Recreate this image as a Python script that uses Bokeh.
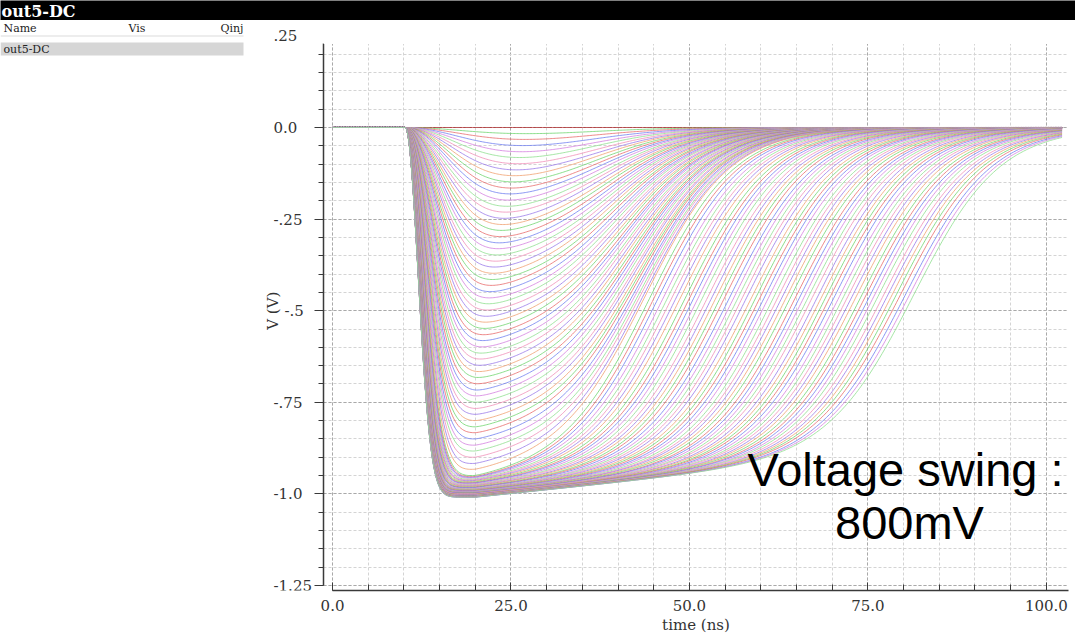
import numpy as np
from bokeh.plotting import figure
from bokeh.layouts import column, row
from bokeh.models import (Range1d, FixedTicker, PrintfTickFormatter, CustomJSTickFormatter,
                          Label, BoxAnnotation, ColumnDataSource)
from bokeh.embed import file_html
from bokeh.resources import INLINE

# ---------------- values ----------------
x_tick_ns = [0, 25, 50, 75, 100]
x_minor_ns = [0, 5, 10, 15, 20, 25, 30, 35, 40, 45, 50, 55, 60, 65, 70, 75, 80, 85, 90, 95, 100]
y_tick_v = [0.25, 0.0, -0.25, -0.5, -0.75, -1.0, -1.25]
y_tick_text = [".25", "0.0", "-.25", "-.5", "-.75", "-1.0", "-1.25"]
y_minor_v = [0.25, 0.2, 0.15, 0.1, 0.05, 0.0, -0.05, -0.1, -0.15, -0.2, -0.25, -0.3, -0.35,
             -0.4, -0.45, -0.5, -0.55, -0.6, -0.65, -0.7, -0.75, -0.8, -0.85, -0.9, -0.95,
             -1.0, -1.05, -1.1, -1.15, -1.2, -1.25]

# Qinj sweep, curves that stay below saturation: depth of minimum (V),
# falling-edge time constant (ns), half-recovery time (ns)
unsat_depth_v = [0.000, 0.017, 0.033, 0.050, 0.067, 0.083, 0.100, 0.117, 0.133, 0.150,
                 0.167, 0.183, 0.200, 0.217, 0.233, 0.250, 0.267, 0.283, 0.300, 0.317,
                 0.333, 0.350, 0.367, 0.383, 0.400, 0.417, 0.433, 0.450, 0.467, 0.483,
                 0.500, 0.517, 0.533, 0.550, 0.567, 0.583, 0.600, 0.617, 0.633, 0.650,
                 0.667, 0.683, 0.700, 0.717, 0.733, 0.750, 0.767, 0.783, 0.800, 0.817,
                 0.833, 0.850, 0.867, 0.883, 0.900, 0.917, 0.933]
unsat_edge_ns = [12.0, 11.54, 11.11, 10.71, 10.34, 10.0, 9.68, 9.38, 9.09, 8.82,
                 8.57, 8.33, 8.11, 7.89, 7.69, 7.5, 7.32, 7.14, 6.98, 6.82,
                 6.67, 6.52, 6.38, 6.25, 6.12, 6.0, 5.88, 5.77, 5.66, 5.56,
                 5.45, 5.36, 5.26, 5.17, 5.08, 5.0, 4.92, 4.84, 4.76, 4.69,
                 4.62, 4.55, 4.48, 4.41, 4.35, 4.29, 4.23, 4.17, 4.11, 4.05,
                 4.0, 3.95, 3.9, 3.85, 3.8, 3.75, 3.7]
unsat_half_ns = [36.0, 36.1, 36.3, 36.4, 36.6, 36.7, 36.9, 37.0, 37.1, 37.3,
                 37.4, 37.6, 37.7, 37.9, 38.0, 38.1, 38.3, 38.4, 38.6, 38.7,
                 38.9, 39.0, 39.1, 39.3, 39.4, 39.6, 39.7, 39.9, 40.0, 40.1,
                 40.3, 40.4, 40.6, 40.7, 40.9, 41.0, 41.1, 41.3, 41.4, 41.6,
                 41.7, 41.9, 42.0, 42.1, 42.3, 42.4, 42.6, 42.7, 42.9, 43.0,
                 43.1, 43.3, 43.4, 43.6, 43.7, 43.9, 44.0]

# Qinj sweep, curves that saturate: plateau depth (V), edge (ns), half-recovery (ns)
sat_depth_v = [0.950, 0.953, 0.955, 0.957, 0.960, 0.962, 0.964, 0.966, 0.968, 0.970,
               0.971, 0.973, 0.975, 0.976, 0.978, 0.979, 0.981, 0.982, 0.983, 0.985,
               0.986, 0.987, 0.988, 0.989, 0.990, 0.991, 0.992, 0.993, 0.994, 0.995,
               0.995, 0.996, 0.997, 0.998, 0.998, 0.999, 1.000, 1.000, 1.001, 1.001,
               1.002, 1.002, 1.003, 1.003, 1.004, 1.004, 1.005, 1.005, 1.005, 1.006,
               1.006, 1.007, 1.007, 1.007, 1.008, 1.008, 1.008, 1.008, 1.009, 1.009, 1.009]
sat_edge_ns = [3.65, 3.58, 3.51, 3.44, 3.38, 3.32, 3.27, 3.22, 3.17, 3.13,
               3.09, 3.05, 3.02, 2.98, 2.95, 2.92, 2.90, 2.87, 2.85, 2.82,
               2.80, 2.78, 2.77, 2.75, 2.73, 2.72, 2.70, 2.69, 2.68, 2.67,
               2.66, 2.65, 2.64, 2.63, 2.62, 2.61, 2.60, 2.60, 2.59, 2.59,
               2.58, 2.57, 2.57, 2.57, 2.56, 2.56, 2.55, 2.55, 2.55, 2.54,
               2.54, 2.54, 2.54, 2.53, 2.53, 2.53, 2.53, 2.52, 2.52, 2.52, 2.52]
sat_half_ns = [44.6, 45.2, 45.8, 46.5, 47.1, 47.7, 48.3, 48.9, 49.6, 50.2,
               50.8, 51.4, 52.0, 52.7, 53.3, 53.9, 54.5, 55.1, 55.8, 56.4,
               57.0, 57.6, 58.2, 58.9, 59.5, 60.1, 60.7, 61.3, 62.0, 62.6,
               63.2, 63.8, 64.4, 65.1, 65.7, 66.3, 66.9, 67.5, 68.2, 68.8,
               69.4, 70.0, 70.6, 71.3, 71.9, 72.5, 73.1, 73.7, 74.4, 75.0,
               75.6, 76.2, 76.8, 77.5, 78.1, 78.7, 79.3, 79.9, 80.6, 81.2, 81.8]

pulse_start_ns = 10.2
recovery_width_ns = 6.0
droop_start_ns = 20.0
droop_per_ns = 0.002

zero_trace_color = "#b0282a"
trace_colors = ["#6fd66f", "#e86b6b", "#6f7ff0", "#d47fe0", "#8ee08e", "#f08fb8", "#9a7bea", "#f0a070"]

# ---------------- build traces ----------------
t = np.arange(0.0, 102.3, 0.2)


def trace(depth, edge, half):
    s = np.clip(t - pulse_start_ns, 0.0, None)
    rise = 1.0 - np.exp(-(s / edge) ** 2)
    rec = 1.0 / (1.0 + np.exp((t - half) / recovery_width_ns))
    shape = rise * rec
    shape = shape / shape.max()
    droop = 1.0 - droop_per_ns * np.clip(t - droop_start_ns, 0.0, None)
    return -depth * shape * droop


depths = unsat_depth_v + sat_depth_v
edges = unsat_edge_ns + sat_edge_ns
halves = unsat_half_ns + sat_half_ns

xs, ys, cols = [], [], []
for i, (d, e, h) in enumerate(zip(depths, edges, halves)):
    xs.append(t.tolist())
    ys.append(trace(d, e, h).tolist())
    cols.append(zero_trace_color if i == 0 else trace_colors[(i - 1) % len(trace_colors)])

src = ColumnDataSource(dict(xs=xs, ys=ys, color=cols))

SERIF = "DejaVu Serif"
TXT = "#333333"
BAND_H = 20
BODY_H = 637 - BAND_H
BOTTOM = 47
PX_PER_V = 366.4                       # 0.25 V per 91.6 px in the reference
Y_TOP = (127 - BAND_H) / PX_PER_V      # value at the top of the frame (0 V is at y=127 px)
Y_RANGE = (-1.2637, Y_TOP)             # frame from y=20 px to y=590 px of the page
AXIS_TOP_V = 0.228                     # the y axis line starts just under .25
X_END = 103.1


def v_at(page_y):
    return (127 - page_y) / PX_PER_V


# ticks actually drawn on the y axis (the axis line starts below .25)
axis_major_v = [v for v in y_tick_v if v <= AXIS_TOP_V]
axis_minor_v = [v for v in y_minor_v if v <= AXIS_TOP_V]

# ---------------- black title band ----------------
band = figure(width=1075, height=BAND_H, output_backend="svg", toolbar_location=None, title=None,
              x_range=Range1d(0, 1075), y_range=Range1d(BAND_H, 0),
              x_axis_location=None, y_axis_location=None,
              min_border_left=0, min_border_right=0, min_border_top=0, min_border_bottom=0,
              outline_line_color=None, background_fill_color="black", border_fill_color="black")
band.grid.visible = False
band.add_layout(Label(x=1, y=11, text="out5-DC", text_font=SERIF, text_font_style="bold",
                      text_font_size="16px", text_color="white", text_align="left",
                      text_baseline="middle"))

# ---------------- signal list + y tick labels ----------------
side = figure(width=314, height=BODY_H, output_backend="svg", toolbar_location=None, title=None,
              x_range=Range1d(0, 314), y_range=Range1d(*Y_RANGE),
              x_axis_location=None, y_axis_location=None,
              min_border_left=0, min_border_right=0, min_border_top=0, min_border_bottom=BOTTOM,
              outline_line_color=None, background_fill_color="white", border_fill_color="white")
side.grid.visible = False
for txt, xx in (("Name", 3), ("Vis", 128), ("Qinj", 220)):
    side.add_layout(Label(x=xx, y=v_at(28), text=txt, text_font=SERIF, text_font_size="11px",
                          text_color="#222222", text_align="left", text_baseline="middle"))
side.add_layout(BoxAnnotation(left=0, right=243, top=v_at(35), bottom=v_at(36),
                              fill_color="#dcdcdc", fill_alpha=1.0, line_color=None))
side.add_layout(BoxAnnotation(left=0, right=243, top=v_at(42), bottom=v_at(55),
                              fill_color="#d6d6d6", fill_alpha=1.0, line_color=None))
side.add_layout(Label(x=3, y=v_at(49), text="out5-DC", text_font=SERIF, text_font_size="11px",
                      text_color="#222222", text_align="left", text_baseline="middle"))
for v, txt in zip(y_tick_v, y_tick_text):
    side.add_layout(Label(x=284 if txt == "-.5" else 273, y=v, text=txt,
                          text_font=SERIF, text_font_size="15px", text_color=TXT,
                          text_align="left", text_baseline="middle"))
side.add_layout(Label(x=272, y=-0.5, text="V (V)", angle=np.pi / 2, text_font=SERIF,
                      text_font_size="15px", text_color=TXT, text_align="center",
                      text_baseline="middle"))

# ---------------- waveform plot ----------------
p = figure(width=761, height=BODY_H, output_backend="svg", toolbar_location=None, title=None,
           x_range=Range1d(-1.265, X_END), y_range=Range1d(*Y_RANGE),
           min_border_left=9, min_border_right=7, min_border_top=0, min_border_bottom=BOTTOM,
           outline_line_color=None, background_fill_color="white", border_fill_color="white")

p.xgrid.ticker = FixedTicker(ticks=x_tick_ns, minor_ticks=x_minor_ns)
p.ygrid.ticker = FixedTicker(ticks=axis_major_v, minor_ticks=axis_minor_v)
for g in (p.xgrid, p.ygrid):
    g.grid_line_color = "#a9a9a9"
    g.grid_line_dash = "3 2"
    g.grid_line_width = 1
    g.minor_grid_line_color = "#d4d4d4"
    g.minor_grid_line_dash = "3 2"
    g.minor_grid_line_width = 1

xa = p.xaxis[0]
xa.ticker = FixedTicker(ticks=x_tick_ns, minor_ticks=x_minor_ns)
xa.formatter = PrintfTickFormatter(format="%.1f")
xa.bounds = (0, X_END)
xa.major_tick_in = 8
xa.major_tick_out = 0
xa.minor_tick_in = 6
xa.minor_tick_out = 0
xa.axis_line_color = "#3a3a3a"
xa.axis_line_width = 1.5
xa.major_tick_line_color = "#3a3a3a"
xa.minor_tick_line_color = "#3a3a3a"
xa.major_label_text_font = SERIF
xa.major_label_text_font_size = "15px"
xa.major_label_text_color = TXT
xa.major_label_standoff = 9
xa.axis_label = "time (ns)"
xa.axis_label_text_font = SERIF
xa.axis_label_text_font_style = "normal"
xa.axis_label_text_font_size = "15px"
xa.axis_label_text_color = TXT
xa.axis_label_standoff = 2

ya = p.yaxis[0]
ya.ticker = FixedTicker(ticks=axis_major_v, minor_ticks=axis_minor_v)
ya.formatter = CustomJSTickFormatter(code="return ''")
ya.bounds = (-1.25, AXIS_TOP_V)
ya.major_label_standoff = 0
ya.major_tick_out = 9
ya.major_tick_in = 0
ya.minor_tick_out = 5
ya.minor_tick_in = 0
ya.axis_line_color = "#3a3a3a"
ya.axis_line_width = 1.5
ya.major_tick_line_color = "#3a3a3a"
ya.minor_tick_line_color = "#3a3a3a"

# blank strip above the top of the y axis (the grid starts there in the original)
p.add_layout(BoxAnnotation(bottom=AXIS_TOP_V, fill_color="white", fill_alpha=1.0, line_color=None))

p.multi_line(xs="xs", ys="ys", line_color="color", line_width=1, line_alpha=0.8, source=src)

p.add_layout(Label(x=582, y=121, x_units="screen", y_units="screen", text="Voltage swing :",
                   text_font="Liberation Sans", text_font_size="47px", text_color="black",
                   text_align="center", text_baseline="alphabetic"))
p.add_layout(Label(x=586, y=68, x_units="screen", y_units="screen", text="800mV",
                   text_font="Liberation Sans", text_font_size="47px", text_color="black",
                   text_align="center", text_baseline="alphabetic"))

layout = column(band, row(side, p, spacing=0), spacing=0)
open("out.html", "w").write(file_html(layout, INLINE))
